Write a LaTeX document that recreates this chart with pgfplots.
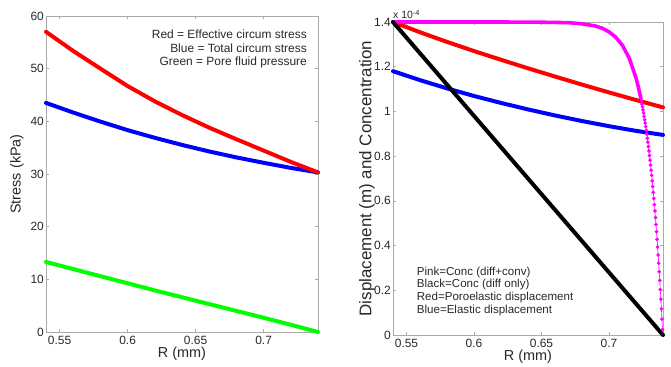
\documentclass[border=0pt]{standalone}
\usepackage{pgfplots}
\pgfplotsset{compat=1.18}
\usepackage{fontspec}
\setmainfont{Liberation Sans}
\definecolor{axgray}{RGB}{170,170,170}
\definecolor{txt}{RGB}{40,40,40}
\definecolor{pred}{RGB}{255,0,0}
\definecolor{pblue}{RGB}{0,0,255}
\definecolor{pgreen}{RGB}{0,255,0}
\definecolor{pmag}{RGB}{255,0,255}
\pgfplotsset{
  mat/.style={
    scale only axis,
    anchor=south west,
    clip=false,
    axis line style={axgray, line width=0.7pt},
    tick style={axgray, line width=0.6pt},
    tick align=inside,
    major tick length=3bp,
    xmin=0.54, xmax=0.74,
    xtick={0.55,0.6,0.65,0.7},
    xticklabels={0.55,0.6,0.65,0.7},
    /pgf/number format/assume math mode=true,
    tick label style={font=\fontsize{12}{14}\selectfont, text=txt},
    xticklabel style={anchor=base, inner sep=0pt, yshift=-12.5bp},
    yticklabel style={anchor=east, inner sep=0pt, xshift=-2bp},
    label style={font=\fontsize{14.5}{16}\selectfont, text=txt},
    xlabel style={at={(axis description cs:0.5,0)}, anchor=center, yshift=-22bp},
    every axis plot/.append style={line cap=round, line join=round},
  }
}
\begin{document}
\begin{tikzpicture}
\path[use as bounding box] (0,0) rectangle (671bp,367bp);
% Left panel
\begin{axis}[mat,
  at={(46bp,35bp)}, width=272bp, height=316bp,
  ymin=0, ymax=60, ytick={0,10,20,30,40,50,60},
  xlabel={R (mm)}, ylabel={Stress (kPa)},
  ylabel style={at={(axis description cs:0,0.5)}, anchor=center, yshift=29bp},
]
\addplot[color=pgreen, line width=4pt] coordinates {
(0.54,13.3)(0.56,11.95)(0.58,10.6)(0.60,9.25)(0.62,7.9)(0.64,6.6)(0.66,5.3)(0.68,4.0)(0.70,2.7)(0.72,1.37)(0.74,0)};
\addplot[color=pblue, line width=4pt] coordinates {
(0.54,43.5)(0.56,41.67)(0.58,39.95)(0.60,38.33)(0.62,36.87)(0.64,35.52)(0.66,34.28)(0.68,33.15)(0.70,32.13)(0.72,31.16)(0.74,30.3)};
\addplot[color=pred, line width=4pt] coordinates {
(0.54,57.0)(0.56,53.36)(0.58,50.01)(0.60,46.7)(0.62,43.8)(0.64,41.2)(0.66,38.8)(0.68,36.6)(0.70,34.45)(0.72,32.3)(0.74,30.3)};
\end{axis}
% Right panel
\begin{axis}[mat,
  at={(393bp,32bp)}, width=270bp, height=313bp,
  ymin=0, ymax=1.4, ytick={0,0.2,0.4,0.6,0.8,1,1.2,1.4},
  yticklabels={0,0.2,0.4,0.6,0.8,1,1.2,1.4},
  xlabel={R (mm)}, ylabel={Displacement (m) and Concentration},
  ylabel style={at={(axis description cs:0,0.5)}, anchor=center, yshift=26bp, font=\fontsize{17}{19}\selectfont},
]
\addplot[color=pblue, line width=4pt] coordinates {
(0.54,1.18)(0.56,1.14)(0.58,1.103)(0.60,1.069)(0.62,1.038)(0.64,1.009)(0.66,0.982)(0.68,0.957)(0.70,0.934)(0.72,0.913)(0.74,0.895)};
\addplot[color=pred, line width=4pt] coordinates {
(0.54,1.40)(0.56,1.354)(0.58,1.311)(0.60,1.270)(0.62,1.231)(0.64,1.193)(0.66,1.156)(0.68,1.120)(0.70,1.085)(0.72,1.051)(0.74,1.018)};
\addplot[color=pmag, line width=3.6pt] coordinates {
(0.54,1.4)(0.58,1.4)(0.62,1.4)(0.65,1.399)(0.67,1.397)(0.68,1.392)(0.69,1.382)(0.695,1.372)(0.70,1.356)(0.705,1.332)(0.71,1.295)(0.715,1.238)(0.72,1.150)(0.722,1.102)(0.7236,1.058)};
\addplot[color=pmag, line width=0.6pt, mark=*, mark size=1.8pt, mark options={solid, fill=pmag, draw=pmag, line width=0.2pt}] coordinates {
(0.7236,1.058)(0.7240,1.046)(0.7244,1.033)(0.7248,1.020)(0.7252,1.007)(0.7256,0.993)(0.7260,0.978)(0.7264,0.963)(0.7268,0.948)(0.7272,0.932)
(0.7276,0.915)(0.7280,0.898)(0.7284,0.880)(0.7288,0.862)(0.7292,0.843)(0.7296,0.823)(0.7300,0.803)(0.7304,0.782)(0.7308,0.760)(0.7312,0.737)
(0.7316,0.714)(0.7320,0.689)(0.7324,0.664)(0.7328,0.638)(0.7332,0.611)(0.7336,0.583)(0.7340,0.555)(0.7344,0.525)(0.7348,0.494)(0.7352,0.462)
(0.7356,0.428)(0.7360,0.394)(0.7364,0.358)(0.7368,0.321)(0.7372,0.283)(0.7376,0.244)(0.7380,0.203)(0.7384,0.160)(0.7388,0.117)(0.7392,0.071)(0.7396,0.024)};
\addplot[color=black, line width=4pt] coordinates {(0.54,1.4)(0.74,0)};
\end{axis}
% annotations
\begin{scope}[every node/.style={inner sep=0pt, text=txt, font=\fontsize{12}{14}\selectfont}]
\node[anchor=base east] at (307bp,328.4bp) {Red = Effective circum stress};
\node[anchor=base east] at (307bp,314.6bp) {Blue = Total circum stress};
\node[anchor=base east] at (307bp,301bp) {Green = Pore fluid pressure};
\end{scope}
\begin{scope}[every node/.style={inner sep=0pt, text=txt, font=\fontsize{11.6}{13}\selectfont}]
\node[anchor=base west] at (416.7bp,91.8bp) {Pink=Conc (diff+conv)};
\node[anchor=base west] at (416.7bp,79.1bp) {Black=Conc (diff only)};
\node[anchor=base west] at (416.7bp,66.5bp) {Red=Poroelastic displacement};
\node[anchor=base west] at (416.7bp,53.8bp) {Blue=Elastic displacement};
\end{scope}
\node[anchor=base west, inner sep=0pt, text=txt, font=\fontsize{10.5}{12}\selectfont] at (393bp,348bp) {x 10\textsuperscript{-4}};
\end{tikzpicture}
\end{document}
